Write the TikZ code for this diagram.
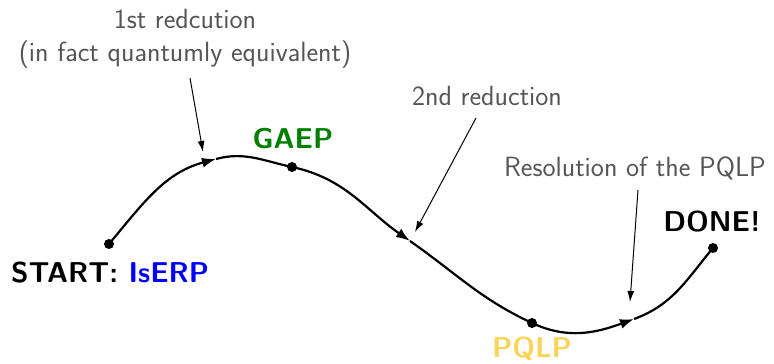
\documentclass[tikz,border=0pt]{standalone}
\usetikzlibrary{arrows.meta}
\definecolor{pqlpcol}{RGB}{250,212,90}
\definecolor{gaepcol}{RGB}{0,128,0}
\definecolor{notecol}{RGB}{85,85,85}
\begin{document}
\begin{tikzpicture}[x=1pt,y=1pt,
  dotnode/.style={circle,fill=black,inner sep=0pt,minimum size=10pt},
  biglabel/.style={font=\sffamily\bfseries\fontsize{28.7}{34}\selectfont,inner sep=0pt},
  note/.style={font=\sffamily\fontsize{27.8}{33}\selectfont,text=notecol,align=center,inner sep=0pt},
  curve/.style={line width=2.2pt,-{Latex[length=14pt,width=10pt]}},
  notearrow/.style={line width=1pt,-{Latex[length=11pt,width=7pt]}}]
\useasboundingbox (0,0) rectangle (774,364);
% points (y flipped)
\node[dotnode] (start) at (109,120) {};
\coordinate (a1) at (216,205);
\node[dotnode] (gaep) at (292,197) {};
\coordinate (a2) at (410,123);
\node[dotnode] (pqlp) at (532,41) {};
\coordinate (a3) at (634,45);
\node[dotnode] (done) at (713,116) {};
% curve
\draw[curve] (start.center) to[out=50,in=195] (a1);
\draw[line width=2.2pt] (a1) to[out=15,in=168] (gaep.center);
\draw[curve] (gaep.center) to[out=-12,in=145] (a2);
\draw[line width=2.2pt] (a2) to[out=-35,in=155] (pqlp.center);
\draw[curve] (pqlp.center) to[out=-25,in=200] (a3);
\draw[line width=2.2pt] (a3) to[out=20,in=230] (done.center);
% labels
\node[biglabel,anchor=base west] (startlbl) at (11,81) {START: \textcolor{blue}{IsERP}};
\node[biglabel,text=gaepcol,anchor=base] (gaeplbl) at (293,215) {GAEP};
\node[biglabel,text=pqlpcol,anchor=base] (pqlplbl) at (532,6) {PQLP};
\node[biglabel,anchor=base] (donelbl) at (712,132) {DONE!};
% notes
\node[note] (n1) at (185,325) {1st redcution\\(in fact quantumly equivalent)};
\node[note,anchor=base] (n2) at (487,258) {2nd reduction};
\node[note,anchor=base] (n3) at (635,187) {Resolution of the PQLP};
\coordinate (n1s) at (190,286);
\coordinate (n1e) at (203,212);
\coordinate (n2s) at (476,246);
\coordinate (n2e) at (415,132);
\coordinate (n3s) at (638,174);
\coordinate (n3e) at (630,62);
\draw[notearrow] (n1s) -- (n1e);
\draw[notearrow] (n2s) -- (n2e);
\draw[notearrow] (n3s) -- (n3e);
\end{tikzpicture}
\end{document}
